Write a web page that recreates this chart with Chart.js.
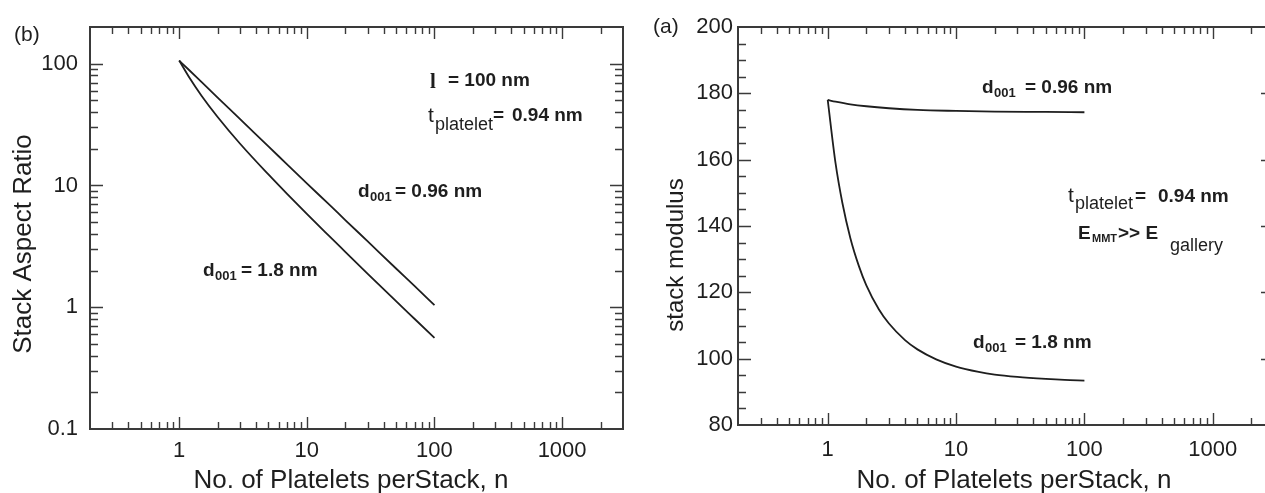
<!DOCTYPE html>
<html>
<head>
<meta charset="utf-8">
<script src="https://cdn.jsdelivr.net/npm/chart.js@4.4.1/dist/chart.umd.min.js"></script>
<style>
  html, body { margin: 0; padding: 0; background: #fff; overflow: hidden; width: 1265px; height: 493px; }
  #chartB { position: absolute; left: 0; top: 0; }
  #chartA { position: absolute; left: 630px; top: 0; }
</style>
</head>
<body>
<canvas id="chartB" width="630" height="493"></canvas>
<canvas id="chartA" width="660" height="493"></canvas>
<script>
// panel (b): stack aspect ratio vs platelets per stack
const nRatio = [1, 1.2, 1.5, 2, 3, 5, 7, 10, 15, 20, 30, 50, 70, 100];
const ratioD096 = [106, 88.3, 70.4, 52.6, 35.0, 20.9, 14.9, 10.4, 6.95, 5.2, 3.47, 2.08, 1.49, 1.04];
const ratioD18 = [106, 76.9, 54.3, 36.5, 22.0, 12.3, 8.52, 5.83, 3.83, 2.85, 1.88, 1.12, 0.80, 0.56];

// panel (a): stack modulus vs platelets per stack
const nModD096 = [1, 1.15, 1.5, 2, 3, 5, 10, 20, 50, 100];
const modD096 = [178, 177.5, 176.7, 176.1, 175.5, 175.0, 174.7, 174.5, 174.4, 174.3];
const nModD18 = [1, 1.15, 1.3, 1.5, 1.75, 2, 2.5, 3, 4, 5, 7, 10, 15, 20, 30, 50, 70, 100];
const modD18 = [178, 159, 147, 136.4, 127.9, 122.1, 114.9, 110.6, 105.6, 102.8, 99.8, 97.6, 96.0, 95.2, 94.5, 93.9, 93.6, 93.4];

const xTickLabels = [1, 10, 100, 1000];
const ratioTickLabels = [0.1, 1, 10, 100];
const modTickLabels = [80, 100, 120, 140, 160, 180, 200];

const FONT = '"Liberation Sans", Arial, sans-serif';
const INK = '#1e1e1e';

const toPoints = (xs, ys) => xs.map((x, i) => ({ x: x, y: ys[i] }));

// minor/major tick positions for a log axis
function logTicks(min, max) {
    const out = [];
    for (let e = Math.floor(Math.log10(min)); e <= Math.ceil(Math.log10(max)); e++) {
        for (let m = 1; m < 10; m++) {
            const v = m * Math.pow(10, e);
            if (v >= min * 0.999 && v <= max * 1.001) out.push({ v: v, major: m === 1 });
        }
    }
    return out;
}
function linTicks(min, max, step, majorStep) {
    const out = [];
    for (let v = min; v <= max + 1e-9; v += step) out.push({ v: v, major: Math.abs(v % majorStep) < 1e-9 });
    return out;
}

function drawParts(ctx, parts) {
    ctx.fillStyle = INK;
    ctx.textAlign = 'left';
    ctx.textBaseline = 'alphabetic';
    parts.forEach(p => {
        ctx.font = p.f;
        ctx.fillText(p.t, p.x, p.y);
    });
}

const boxPlugin = {
    id: 'boxPlugin',
    afterDatasetsDraw(chart, args, opts) {
        const { ctx, chartArea: a } = chart;
        const x = chart.scales.x, y = chart.scales.y;
        ctx.save();
        ctx.strokeStyle = '#3a3a3a';
        ctx.lineWidth = 1.4;
        ctx.beginPath();
        opts.xTicks.forEach(t => {
            const px = Math.round(x.getPixelForValue(t.v)) + 0.5;
            if (px < a.left + 2 || px > a.right - 2) return;
            const len = t.major ? 12 : 7;
            ctx.moveTo(px, a.bottom); ctx.lineTo(px, a.bottom - len);
            ctx.moveTo(px, a.top); ctx.lineTo(px, a.top + len);
        });
        opts.yTicks.forEach(t => {
            const py = Math.round(y.getPixelForValue(t.v)) + 0.5;
            if (py < a.top + 2 || py > a.bottom - 2) return;
            const len = t.major ? 13 : 8;
            ctx.moveTo(a.left, py); ctx.lineTo(a.left + len, py);
            ctx.moveTo(a.right, py); ctx.lineTo(a.right - len, py);
        });
        ctx.stroke();
        ctx.lineWidth = 2;
        ctx.strokeRect(a.left, a.top, a.right - a.left, a.bottom - a.top);

        // axis titles
        ctx.fillStyle = INK;
        ctx.font = opts.xTitle.size + 'px ' + FONT;
        ctx.textAlign = 'center';
        ctx.textBaseline = 'alphabetic';
        ctx.fillText(opts.xTitle.text, opts.xTitle.x, opts.xTitle.y);
        ctx.save();
        ctx.translate(opts.yTitle.x, opts.yTitle.y);
        ctx.rotate(-Math.PI / 2);
        ctx.font = opts.yTitle.size + 'px ' + FONT;
        ctx.fillText(opts.yTitle.text, 0, 0);
        ctx.restore();

        opts.notes.forEach(parts => drawParts(ctx, parts));
        ctx.restore();
    }
};

const bold = s => 'bold ' + s + 'px ' + FONT;
const reg = s => s + 'px ' + FONT;

function makeChart(id, cfg) {
    return new Chart(document.getElementById(id), {
        type: 'scatter',
        data: {
            datasets: cfg.series.map(s => ({
                data: s,
                showLine: true,
                borderColor: INK,
                borderWidth: 1.8,
                pointRadius: 0,
                cubicInterpolationMode: 'monotone',
                fill: false
            }))
        },
        options: {
            responsive: false,
            animation: false,
            events: [],
            layout: { padding: { top: 27, right: cfg.padRight, left: 0, bottom: 0 } },
            plugins: {
                legend: { display: false },
                tooltip: { enabled: false },
                boxPlugin: cfg.box
            },
            scales: {
                x: {
                    type: 'logarithmic',
                    min: 0.2,
                    max: 3000,
                    afterBuildTicks: s => { s.ticks = xTickLabels.map(v => ({ value: v })); },
                    afterFit: s => { s.height = cfg.xHeight; },
                    grid: { display: false, drawTicks: false },
                    border: { display: false },
                    ticks: {
                        color: INK,
                        padding: cfg.xPad,
                        maxRotation: 0,
                        autoSkip: false,
                        font: { family: FONT, size: 22 },
                        callback: v => String(v)
                    }
                },
                y: cfg.y
            }
        },
        plugins: [boxPlugin]
    });
}

makeChart('chartB', {
    series: [toPoints(nRatio, ratioD096), toPoints(nRatio, ratioD18)],
    padRight: 7,
    xHeight: 64,
    xPad: 9,
    y: {
        type: 'logarithmic',
        min: 0.1,
        max: 200,
        afterBuildTicks: s => { s.ticks = ratioTickLabels.map(v => ({ value: v })); },
        afterFit: s => { s.width = 90; },
        grid: { display: false, drawTicks: false },
        border: { display: false },
        ticks: {
            color: INK,
            padding: 12,
            font: { family: FONT, size: 22 },
            callback: v => String(v)
        }
    },
    box: {
        xTicks: logTicks(0.2, 3000),
        yTicks: logTicks(0.1, 200),
        xTitle: { text: 'No. of Platelets perStack, n', x: 351, y: 488, size: 26 },
        yTitle: { text: 'Stack Aspect Ratio', x: 31, y: 244, size: 26 },
        notes: [
            [{ t: '(b)', x: 14, y: 41, f: reg(21) }],
            [{ t: 'l', x: 430, y: 88, f: 'bold 21px "Liberation Serif", serif' },
             { t: '= 100 nm', x: 448, y: 86, f: bold(19) }],
            [{ t: 't', x: 428, y: 122, f: reg(21) },
             { t: 'platelet', x: 435, y: 130, f: reg(18) },
             { t: '=', x: 493, y: 121, f: bold(19) },
             { t: '0.94 nm', x: 512, y: 121, f: bold(19) }],
            [{ t: 'd', x: 358, y: 197, f: bold(19) },
             { t: '001', x: 370, y: 201, f: bold(13) },
             { t: '= 0.96 nm', x: 395, y: 197, f: bold(19) }],
            [{ t: 'd', x: 203, y: 276, f: bold(19) },
             { t: '001', x: 215, y: 280, f: bold(13) },
             { t: '= 1.8 nm', x: 241, y: 276, f: bold(19) }]
        ]
    }
});

makeChart('chartA', {
    series: [toPoints(nModD096, modD096), toPoints(nModD18, modD18)],
    padRight: 16,
    xHeight: 68,
    xPad: 12,
    y: {
        type: 'linear',
        min: 80,
        max: 200,
        afterBuildTicks: s => { s.ticks = modTickLabels.map(v => ({ value: v })); },
        afterFit: s => { s.width = 108; },
        grid: { display: false, drawTicks: false },
        border: { display: false },
        ticks: {
            color: INK,
            padding: 5,
            font: { family: FONT, size: 22 }
        }
    },
    box: {
        xTicks: logTicks(0.2, 3000),
        yTicks: linTicks(80, 200, 5, 20),
        xTitle: { text: 'No. of Platelets perStack, n', x: 384, y: 488, size: 26 },
        yTitle: { text: 'stack modulus', x: 53, y: 255, size: 24 },
        notes: [
            [{ t: '(a)', x: 23, y: 33, f: reg(21) }],
            [{ t: 'd', x: 352, y: 93, f: bold(19) },
             { t: '001', x: 364, y: 97, f: bold(13) },
             { t: '= 0.96 nm', x: 395, y: 93, f: bold(19) }],
            [{ t: 't', x: 438, y: 202, f: reg(21) },
             { t: 'platelet', x: 445, y: 209, f: reg(18) },
             { t: '=', x: 505, y: 202, f: bold(19) },
             { t: '0.94 nm', x: 528, y: 202, f: bold(19) }],
            [{ t: 'E', x: 448, y: 239, f: bold(19) },
             { t: 'MMT', x: 462, y: 242, f: bold(11) },
             { t: '>> E', x: 488, y: 239, f: bold(19) },
             { t: 'gallery', x: 540, y: 251, f: reg(18) }],
            [{ t: 'd', x: 343, y: 348, f: bold(19) },
             { t: '001', x: 355, y: 352, f: bold(13) },
             { t: '= 1.8 nm', x: 385, y: 348, f: bold(19) }]
        ]
    }
});
</script>
</body>
</html>
